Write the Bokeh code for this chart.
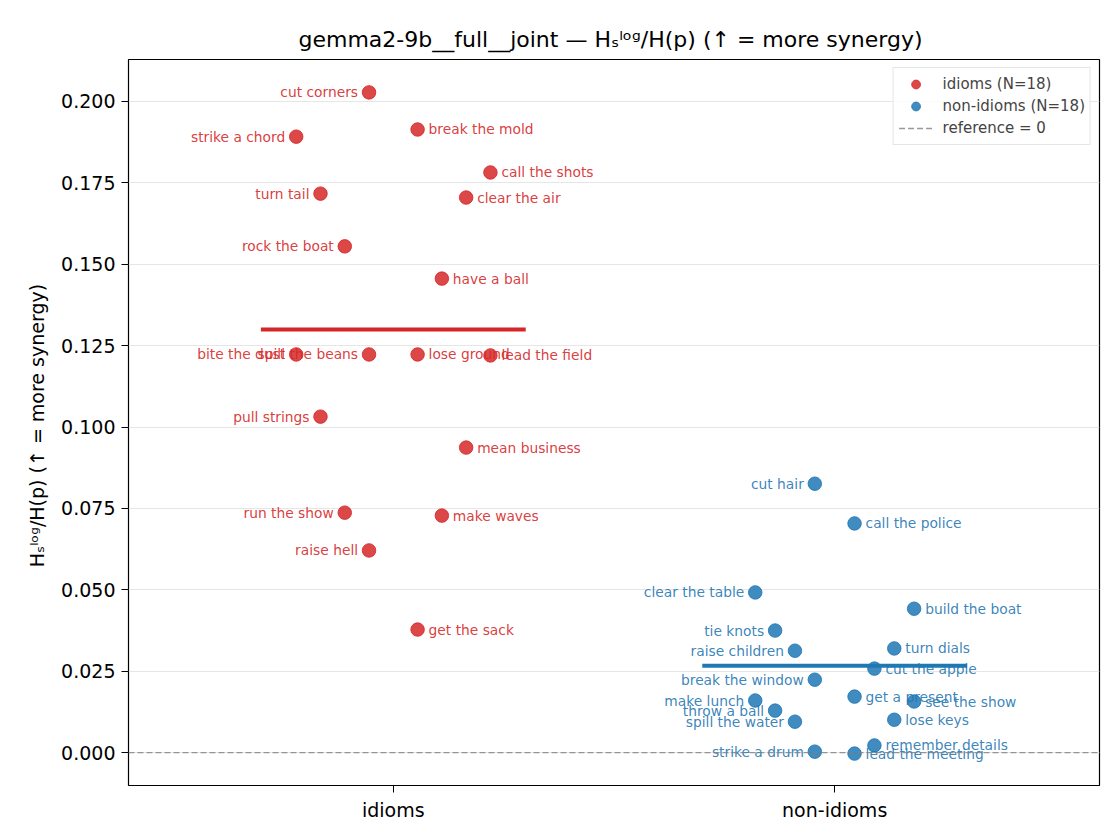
from bokeh.plotting import figure
from bokeh.models import (ColumnDataSource, FixedTicker, Legend, LegendItem,
                          PrintfTickFormatter)
from bokeh.core.properties import value
from bokeh.embed import file_html
from bokeh.resources import INLINE

# values listed in descending rank order (rank decides the jitter slot)
idiom_names = ["cut corners", "break the mold", "strike a chord", "call the shots",
               "turn tail", "clear the air", "rock the boat", "have a ball",
               "spill the beans", "lose ground", "bite the dust", "lead the field",
               "pull strings", "mean business", "run the show", "make waves",
               "raise hell", "get the sack"]
idiom_vals = [0.2028, 0.1914, 0.1892, 0.1782, 0.1717, 0.1705, 0.1555, 0.1456,
              0.1223, 0.1223, 0.1223, 0.1220, 0.1032, 0.0937, 0.0737, 0.0728,
              0.0621, 0.0378]

nonidiom_names = ["cut hair", "call the police", "clear the table", "build the boat",
                  "tie knots", "turn dials", "raise children", "cut the apple",
                  "break the window", "get a present", "make lunch", "see the show",
                  "throw a ball", "lose keys", "spill the water", "remember details",
                  "strike a drum", "lead the meeting"]
nonidiom_vals = [0.0826, 0.0704, 0.0492, 0.0442, 0.0375, 0.0320, 0.0313, 0.0258,
                 0.0224, 0.0172, 0.0160, 0.0157, 0.0129, 0.0101, 0.0095, 0.0022,
                 0.0003, -0.0003]

groups = ["idioms", "non-idioms"]
means = [0.1300, 0.0267]
y_ticks = [0.0, 0.025, 0.05, 0.075, 0.1, 0.125, 0.15, 0.175, 0.2]

colors = ["#d62728", "#1f77b4"]
steps = [0.055, 0.045]
slots = [-1, 1, -4, 4, -3, 3, -2, 2]
FONT = "DejaVu Sans"

p = figure(width=1104, height=824, output_backend="svg", toolbar_location=None,
           x_range=(-0.6, 1.6), y_range=(-0.0101, 0.2129),
           min_border_left=128, min_border_right=5, min_border_top=59,
           min_border_bottom=39)
p.title.text = "gemma2-9b__full__joint \u2014 H\u209b\u02e1\u1d52\u1d4d/H(p)  (\u2191 = more synergy)"
p.title.align = "center"
p.title.text_font = FONT
p.title.text_font_size = "22px"
p.title.text_font_style = "normal"
p.title.text_color = "black"
p.title.standoff = 16

items = []
for gi, (names, vals) in enumerate([(idiom_names, idiom_vals), (nonidiom_names, nonidiom_vals)]):
    xs = [gi + slots[i % 8] * steps[gi] for i in range(len(vals))]
    left = [i for i in range(len(vals)) if slots[i % 8] < 0]
    right = [i for i in range(len(vals)) if slots[i % 8] > 0]
    src = ColumnDataSource(dict(x=xs, y=vals, name=names))
    r = p.scatter("x", "y", source=src, size=13.5, fill_color=colors[gi],
                  fill_alpha=0.85, line_color=colors[gi], line_alpha=0.85, line_width=1)
    items.append(LegendItem(label="%s (N=%d)" % (groups[gi], len(vals)), renderers=[r]))
    p.text([xs[i] for i in left], [vals[i] for i in left], [names[i] for i in left],
           x_offset=-11, text_align="right", text_baseline="middle",
           text_font=value(FONT), text_font_size="13.8px", text_color=colors[gi],
           text_alpha=0.9)
    p.text([xs[i] for i in right], [vals[i] for i in right], [names[i] for i in right],
           x_offset=11, text_align="left", text_baseline="middle",
           text_font=value(FONT), text_font_size="13.8px", text_color=colors[gi],
           text_alpha=0.9)
    p.line([gi - 0.3, gi + 0.3], [means[gi], means[gi]], line_color=colors[gi], line_width=4)

ref = p.line([-0.6, 1.6], [0, 0], line_color="gray", line_dash="6 3", line_alpha=0.8,
             line_width=1.3)
items.append(LegendItem(label="reference = 0", renderers=[ref]))

legend = Legend(items=items, location="top_right", label_text_font=FONT,
                label_text_font_size="15px", border_line_color="#cccccc",
                border_line_width=1, glyph_height=22, glyph_width=34, label_height=20,
                spacing=0, padding=5, margin=8, label_standoff=10,
                background_fill_alpha=0.8)
p.add_layout(legend)

p.xaxis.ticker = FixedTicker(ticks=[0, 1])
p.xaxis.major_label_overrides = {0: groups[0], 1: groups[1]}
p.yaxis.ticker = FixedTicker(ticks=y_ticks)
p.yaxis.formatter = PrintfTickFormatter(format="%.3f")
p.yaxis.axis_label = "H\u209b\u02e1\u1d52\u1d4d/H(p)  (\u2191 = more synergy)"
p.yaxis.axis_label_text_font = FONT
p.yaxis.axis_label_text_font_style = "normal"
p.yaxis.axis_label_text_font_size = "19px"
p.yaxis.axis_label_text_color = "black"
p.yaxis.axis_label_standoff = 10
for ax in [p.xaxis, p.yaxis]:
    ax.major_label_text_font = FONT
    ax.major_label_text_font_size = "19px"
    ax.major_label_text_color = "black"
    ax.axis_line_color = None
    ax.minor_tick_line_color = None
    ax.major_tick_line_color = "black"
    ax.major_tick_in = 0
    ax.major_tick_out = 7
    ax.major_label_standoff = 6
p.xgrid.grid_line_color = None
p.ygrid.grid_line_color = "#e6e6e6"
p.outline_line_color = "black"
p.outline_line_width = 1.2

open("out.html", "w").write(file_html(p, INLINE))
